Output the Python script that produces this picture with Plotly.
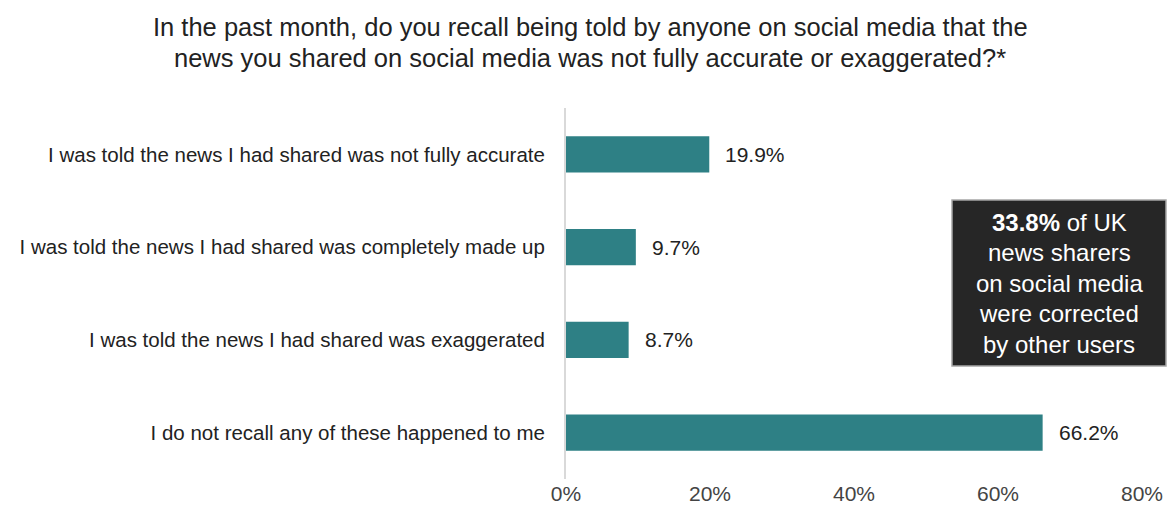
import plotly.graph_objects as go

categories = [
    "I was told the news I had shared was not fully accurate",
    "I was told the news I had shared was completely made up",
    "I was told the news I had shared was exaggerated",
    "I do not recall any of these happened to me",
]
values = [19.9, 9.7, 8.7, 66.2]
value_labels = ["19.9%", "9.7%", "8.7%", "66.2%"]
x_ticks = [0, 20, 40, 60, 80]
x_tick_labels = ["0%", "20%", "40%", "60%", "80%"]
box_lines = ["<b>33.8%</b> of UK", "news sharers", "on social media", "were corrected", "by other users"]
title_lines = [
    "In the past month, do you recall being told by anyone on social media that the",
    "news you shared on social media was not fully accurate or exaggerated?*",
]

FONT = "Liberation Sans, Arial, sans-serif"
TEXT = "#222222"

fig = go.Figure(
    go.Bar(
        x=values,
        y=categories,
        orientation="h",
        marker=dict(color="#2e8085", line=dict(width=0)),
        width=0.39,
        hoverinfo="skip",
    )
)

fig.update_layout(
    width=1170,
    height=510,
    margin=dict(l=566, r=28, t=108, b=31, autoexpand=False),
    paper_bgcolor="white",
    plot_bgcolor="white",
    showlegend=False,
    font=dict(family=FONT, color=TEXT),
    xaxis=dict(
        range=[0, 80],
        tickvals=x_ticks,
        ticktext=x_tick_labels,
        showgrid=False,
        zeroline=False,
        showline=False,
        ticks="",
        ticklabelstandoff=0,
        tickfont=dict(size=21, color="#444444", family=FONT),
        automargin=False,
        fixedrange=True,
    ),
    yaxis=dict(
        autorange="reversed",
        showgrid=False,
        zeroline=False,
        showline=True,
        linecolor="#d9d9d9",
        linewidth=2,
        ticks="",
        ticklabelstandoff=15,
        tickfont=dict(size=20.5, color=TEXT, family=FONT),
        automargin=False,
        fixedrange=True,
    ),
)

# Title lines
for i, t in enumerate(title_lines):
    fig.add_annotation(
        xref="paper", yref="paper",
        x=(590 - 566) / 576,
        y=1 + (108 - (27 + 31 * i)) / 371,
        text=t, showarrow=False,
        xanchor="center", yanchor="middle",
        font=dict(size=25.5, color=TEXT, family=FONT),
    )

# Value labels
for c, v, lab in zip(categories, values, value_labels):
    fig.add_annotation(
        x=v, y=c, text=lab, showarrow=False,
        xanchor="left", yanchor="middle", xshift=14,
        font=dict(size=21, color=TEXT, family=FONT),
    )

# Callout box
x0p = (952 - 566) / 576
x1p = (1166 - 566) / 576
y_top = (479 - 200) / 371
y_bot = (479 - 366) / 371
fig.add_shape(
    type="rect", xref="paper", yref="paper",
    x0=x0p, x1=x1p, y0=y_bot, y1=y_top,
    fillcolor="#262626", line=dict(color="#a6a6a6", width=1.5),
)
line_gap = 30.5 / 371
y_center = (y_top + y_bot) / 2
for i, t in enumerate(box_lines):
    fig.add_annotation(
        xref="paper", yref="paper",
        x=(x0p + x1p) / 2,
        y=y_center + (2 - i) * line_gap,
        text=t, showarrow=False,
        xanchor="center", yanchor="middle",
        font=dict(size=24, color="white", family=FONT),
    )

fig.write_html("out.html")
